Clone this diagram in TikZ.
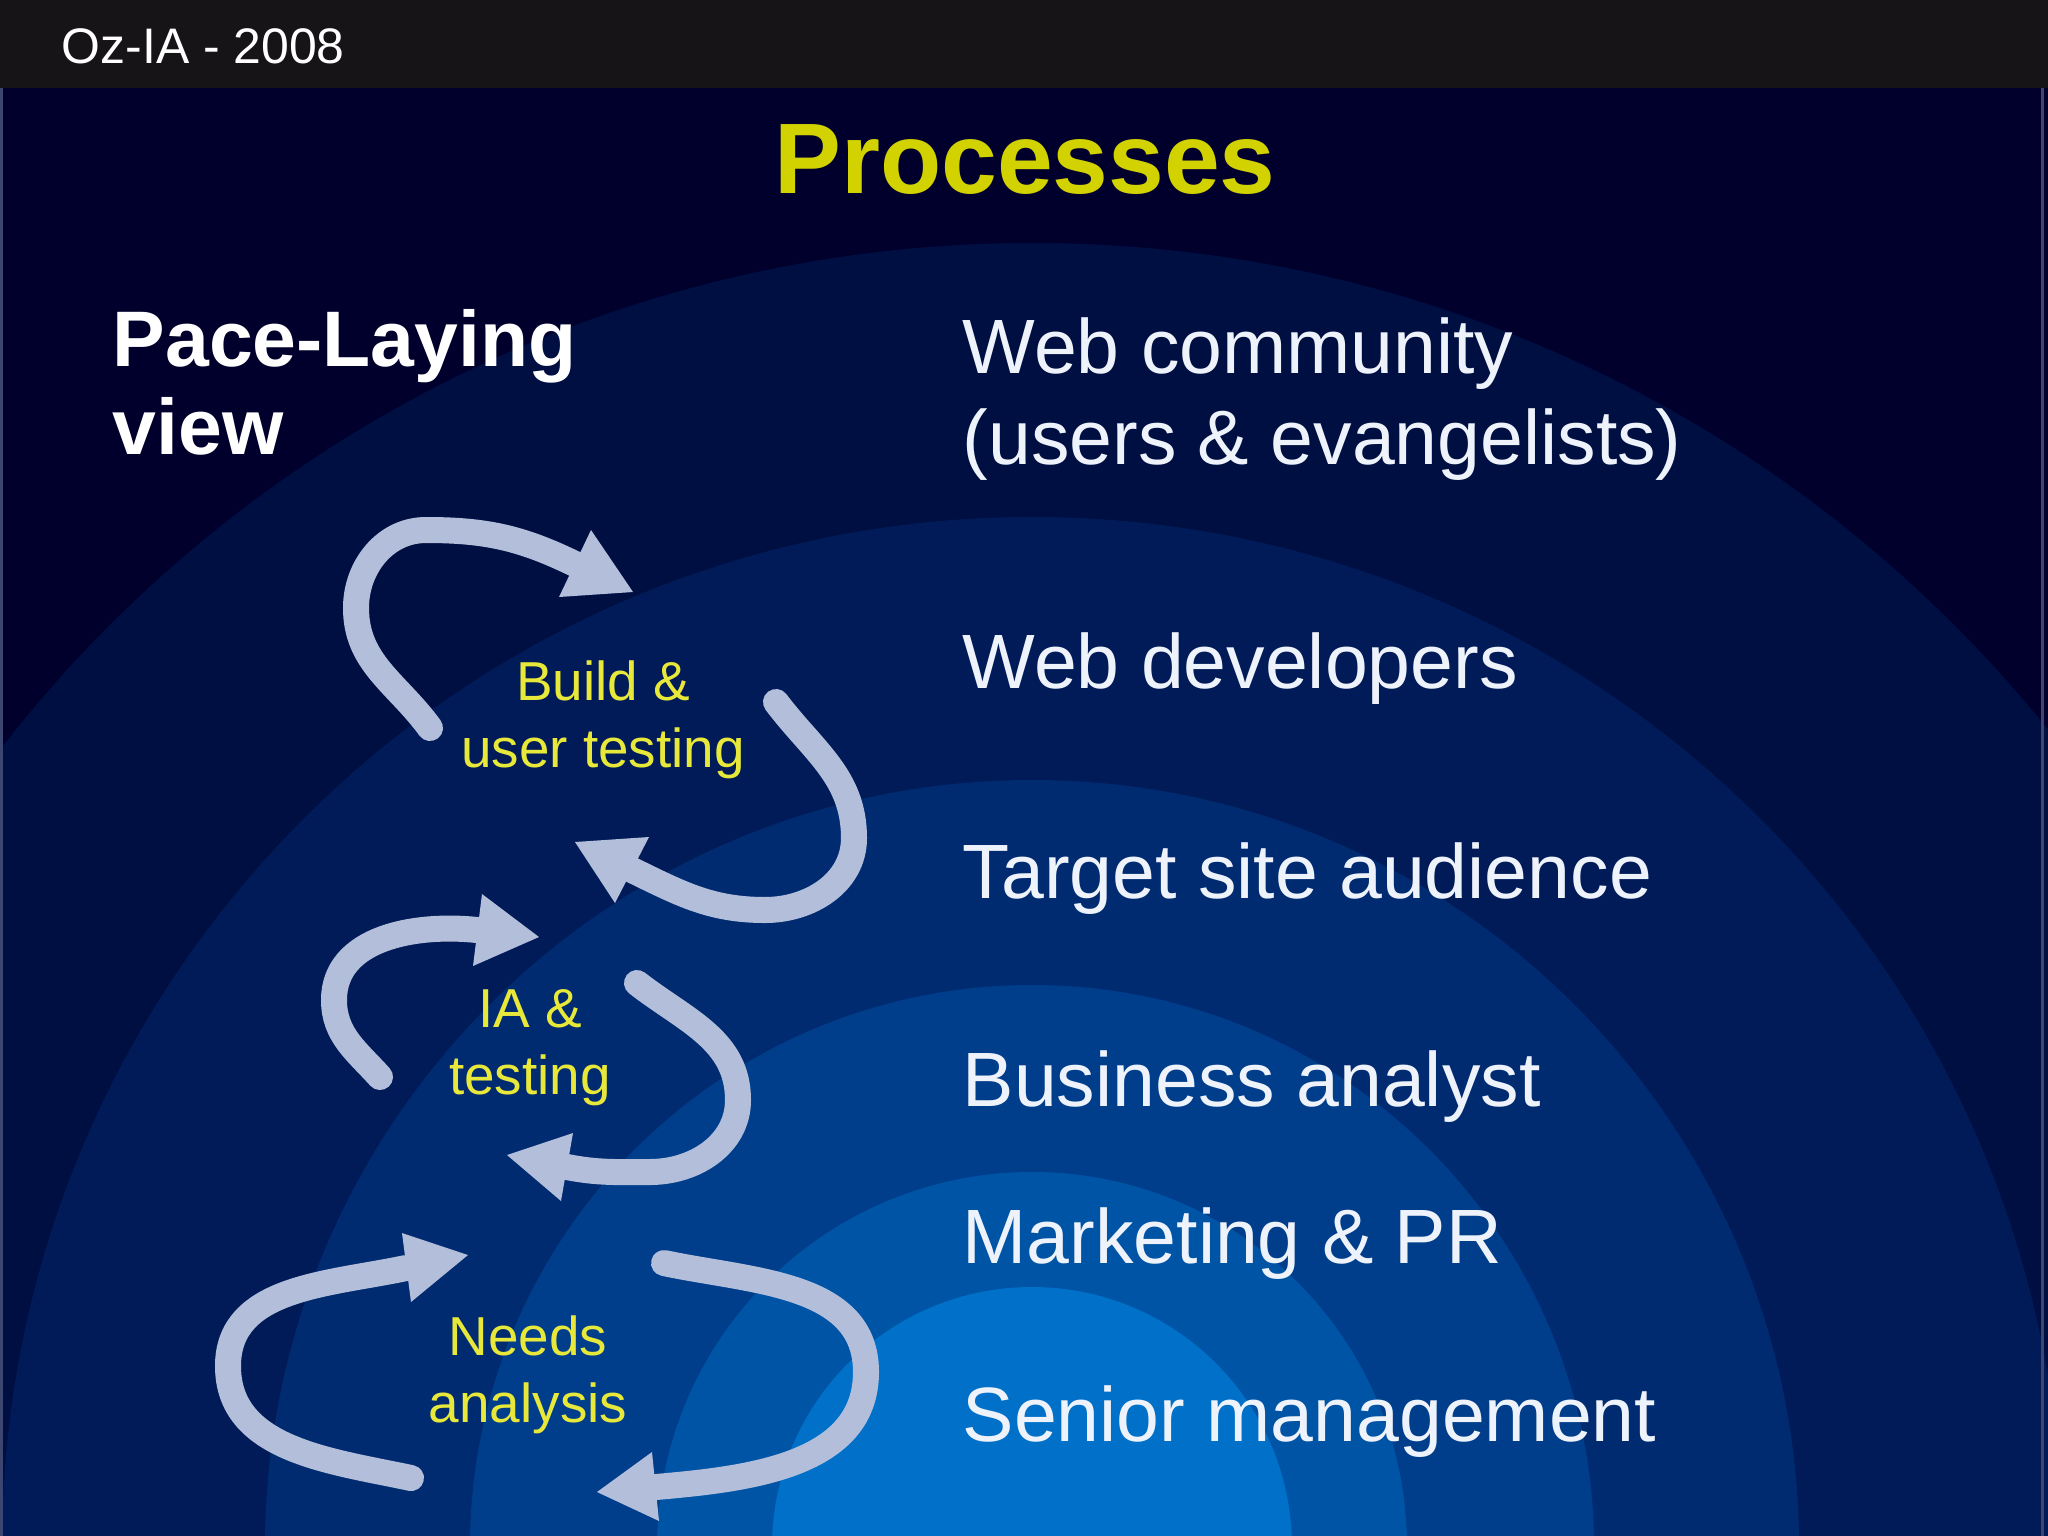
\documentclass[tikz,border=0pt]{standalone}
\usepackage{fontspec}
\setmainfont{Liberation Sans}
\definecolor{topbar}{HTML}{161416}
\definecolor{bgnavy}{HTML}{01002C}
\definecolor{ringA}{HTML}{000F42}
\definecolor{ringB}{HTML}{001B58}
\definecolor{ringC}{HTML}{002B70}
\definecolor{ringD}{HTML}{003E8B}
\definecolor{ringE}{HTML}{0054A6}
\definecolor{ringF}{HTML}{0070C8}
\definecolor{titley}{HTML}{D2D200}
\definecolor{labely}{HTML}{E8E83A}
\definecolor{arrowc}{HTML}{B3BFDA}
\definecolor{labelw}{HTML}{EEF2FA}
\definecolor{edgeline}{HTML}{3C4670}
\tikzset{
  shaft/.style={draw=arrowc, line width=0.26cm, line cap=round, line join=round},
  arrowhead/.style={fill=arrowc},
  layerlabel/.style={anchor=base west, inner sep=0pt, text=labelw, align=left,
    font=\fontsize{21.9}{25.6}\selectfont},
  cyclelabel/.style={anchor=base, inner sep=0pt, text=labely, align=center,
    font=\fontsize{15.6}{18.8}\selectfont},
}
\begin{document}
\begin{tikzpicture}[x=0.01cm,y=-0.01cm]
\useasboundingbox (0,0) rectangle (2048,1536);
% background
\fill[bgnavy] (0,88) rectangle (2048,1536);
\begin{scope}
  \clip (0,88) rectangle (2048,1536);
  \fill[ringA] (1032,1547) circle (1304);
  \fill[ringB] (1032,1547) circle (1030);
  \fill[ringC] (1032,1547) circle (767);
  \fill[ringD] (1032,1547) circle (562);
  \fill[ringE] (1032,1547) circle (375);
  \fill[ringF] (1032,1547) circle (260);
\end{scope}
\fill[topbar] (0,0) rectangle (2048,88);
\draw[draw=edgeline, line width=0.03cm] (1.5,88) -- (1.5,1536);
\draw[draw=edgeline, line width=0.03cm] (2042,88) -- (2042,1536);
% header texts
\node[anchor=base west, inner sep=0pt, text=white, font=\fontsize{14.2}{17}\selectfont] (hdr) at (61,63) {Oz-IA - 2008};
\node[anchor=base, inner sep=0pt, text=titley, font=\fontsize{28.5}{34}\selectfont\bfseries] (title) at (1025,193) {Processes};
\node[anchor=base west, inner sep=0pt, text=white, align=left, font=\fontsize{22.4}{24.8}\selectfont\bfseries] (pace) at (112,454) {Pace-Laying\\view};
% layer labels (multi-line nodes anchor at the last baseline)
\node[layerlabel] (webcom) at (962,464) {Web community\\(users \& evangelists)};
\node[layerlabel] (webdev) at (962,688) {Web developers};
\node[layerlabel] (target) at (962,898) {Target site audience};
\node[layerlabel] (busan) at (962,1106) {Business analyst};
\node[layerlabel] (mktpr) at (962,1263) {Marketing \& PR};
\node[layerlabel] (senior) at (962,1441) {Senior management};
% cycle labels
\node[cyclelabel] (build) at (603,767) {Build \&\\user testing};
\node[cyclelabel] (iatest) at (530,1094) {IA \&\\testing};
\node[cyclelabel] (needs) at (528,1422) {Needs\\analysis};
% arrow end points
\coordinate (t1a) at (430,728);  \coordinate (e1a) at (575,564);
\coordinate (t1b) at (776,702);  \coordinate (e1b) at (632,870);
\coordinate (t2a) at (380,1077); \coordinate (e2a) at (477,930);
\coordinate (t2b) at (637,983);  \coordinate (e2b) at (567,1167);
\coordinate (t3a) at (411,1478); \coordinate (e3a) at (406,1268);
\coordinate (t3b) at (664,1263); \coordinate (e3b) at (656,1487);
% arrows: Build & user testing (angles are page angles, y up)
\draw[shaft] (t1a) to[out=126,in=270] (356,608) to[out=90,in=180] (426,530) to[out=0,in=154] (e1a);
\fill[arrowhead] (591,530) -- (633,592) -- (559,597) -- cycle;
\draw[shaft] (t1b) to[out=307,in=90] (854,838) to[out=270,in=0] (765,910) to[out=180,in=334] (e1b);
\fill[arrowhead] (649,837) -- (575,842) -- (615,903) -- cycle;
% arrows: IA & testing
\draw[shaft] (t2a) to[out=132,in=270] (334,1000) to[out=90,in=174] (e2a);
\fill[arrowhead] (482,894) -- (539,937) -- (473,966) -- cycle;
\draw[shaft] (t2b) to[out=322,in=90] (738,1100) to[out=270,in=0] (650,1172) to[out=180,in=349] (e2b);
\fill[arrowhead] (573,1133) -- (507,1155) -- (561,1201) -- cycle;
% arrows: Needs analysis
\draw[shaft] (t3a) to[out=168,in=270] (228,1366) to[out=90,in=192] (e3a);
\fill[arrowhead] (402,1233) -- (468,1255) -- (411,1302) -- cycle;
\draw[shaft] (t3b) to[out=348,in=90] (866,1372) to[out=270,in=5] (e3b);
\fill[arrowhead] (652,1452) -- (597,1492) -- (659,1521) -- cycle;
\end{tikzpicture}
\end{document}
